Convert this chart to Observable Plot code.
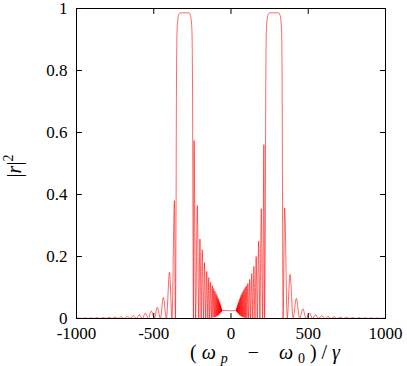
<!DOCTYPE html>
<html>
<head>
<meta charset="utf-8">
<script src="https://cdn.jsdelivr.net/npm/d3@7"></script>
<script src="https://cdn.jsdelivr.net/npm/@observablehq/plot@0.6"></script>
<style>
  html, body { margin: 0; padding: 0; background: #fff; }
  #chart svg { display: block; }
</style>
</head>
<body>
<div id="chart"></div>
<script>
// Tick values
const xTicks = [-1000, -500, 0, 500, 1000];
const yTicks = [0, 0.2, 0.4, 0.6, 0.8, 1];

// Curve, segment by segment: [(ωp−ω0)/γ, |r|^2]
const leftTail = [
  [-1000, 0.0008], [-984, 0.0016], [-964, 0], [-945, 0.0019], [-925, 0], [-906, 0.0022],
  [-886, 0], [-867, 0.0026], [-847, 0], [-828, 0.003], [-808, 0], [-789, 0.0037],
  [-769, 0], [-750, 0.0045], [-730, 0], [-711, 0.0055], [-691, 0], [-672, 0.007],
  [-652, 0], [-633, 0.009], [-613, 0], [-594, 0.012], [-574, 0], [-555, 0.017],
  [-535, 0], [-516, 0.024], [-496, 0], [-477, 0.036], [-457, 0], [-438, 0.068],
  [-418, 0], [-398, 0.149], [-382, 0], [-366, 0.38]
];
const leftBand = [
  [-360, 0], [-356, 0.3], [-353, 0.75], [-349, 0.93], [-344, 0.965], [-338, 0.98],
  [-330, 0.986], [-272, 0.986], [-264, 0.98], [-258, 0.965], [-253, 0.93],
  [-249, 0.75], [-246, 0.3], [-243, 0]
];
const leftInner = [
  [-239, 0.574], [-229, 0], [-218, 0.365], [-209, 0], [-201, 0.257], [-193, 0],
  [-186, 0.222], [-178, 0], [-171, 0.18], [-164, 0], [-157, 0.152], [-150, 0],
  [-144, 0.132], [-138, 0], [-132, 0.117], [-126, 0.002]
];
const leftCone = [
  [-121, 0.106], [-116.5, 0.003], [-112, 0.097], [-108, 0.004], [-104, 0.089],
  [-100.5, 0.005], [-97, 0.081], [-94, 0.007], [-91, 0.074], [-88.5, 0.008],
  [-86, 0.068], [-83.8, 0.010], [-81.5, 0.062], [-79.5, 0.012], [-77.5, 0.057],
  [-75.8, 0.014], [-74, 0.052], [-72.5, 0.016], [-71, 0.048], [-69.8, 0.018],
  [-68.5, 0.044], [-67.4, 0.020], [-66.3, 0.040], [-65.4, 0.021], [-64.5, 0.036],
  [-63.7, 0.022], [-63, 0.033], [-62.4, 0.023], [-61.8, 0.030], [-61.3, 0.024],
  [-60.8, 0.028]
];
const center = [[-60, 0.026], [-30, 0.0255], [0, 0.025], [20, 0.0255], [34, 0.026]];
const rightCone = [
  [35, 0.028], [35.6, 0.024], [36.2, 0.030], [36.9, 0.023], [37.6, 0.033],
  [38.4, 0.022], [39.3, 0.036], [40.3, 0.021], [41.3, 0.040], [42.4, 0.020],
  [43.6, 0.044], [44.9, 0.018], [46.3, 0.048], [47.8, 0.016], [49.4, 0.053],
  [51.2, 0.014], [53, 0.058], [55, 0.012], [57, 0.064], [59.2, 0.010],
  [61.5, 0.070], [64, 0.008], [66.5, 0.076], [69.2, 0.007], [72, 0.082],
  [75, 0.005], [78, 0.088], [81.2, 0.004], [84.5, 0.094], [88, 0.003],
  [91.5, 0.100], [95.2, 0.002], [99, 0.106], [103, 0.001]
];
const rightInner = [
  [109, 0.113], [114.5, 0], [121, 0.126], [127, 0], [134, 0.145], [141, 0],
  [148, 0.168], [155, 0], [163, 0.2], [170, 0], [179, 0.249], [187, 0],
  [196, 0.354], [205, 0], [213, 0.561], [217.5, 0]
];
const rightBand = [
  [222, 0.3], [225, 0.75], [229, 0.93], [234, 0.965], [240, 0.98], [248, 0.986],
  [308, 0.986], [316, 0.98], [322, 0.965], [327, 0.93], [331, 0.75], [334, 0.3], [337, 0]
];
const rightTail = [
  [347, 0.357], [364, 0], [382, 0.142], [402, 0], [423, 0.065], [444, 0],
  [465, 0.031], [486, 0], [508, 0.018], [528, 0], [548, 0.012], [568, 0],
  [588, 0.009], [608, 0], [628, 0.007], [648, 0], [668, 0.0055], [688, 0],
  [708, 0.0045], [728, 0], [748, 0.0037], [768, 0], [788, 0.003], [808, 0],
  [828, 0.0026], [848, 0], [868, 0.0022], [888, 0], [908, 0.0019], [928, 0],
  [948, 0.0016], [968, 0], [988, 0.0014], [1000, 0.001]
];

const data = [].concat(leftTail, leftBand, leftInner, leftCone, center,
                       rightCone, rightInner, rightBand, rightTail);

const tickShape = {draw(context, l) { context.moveTo(0, 0); context.lineTo(0, -l); }};
const tickOpts = {length: 5, anchor: "start", shape: tickShape, stroke: "black", strokeWidth: 1};

const chart = Plot.plot({
  width: 407,
  height: 366,
  marginLeft: 76,
  marginRight: 22,
  marginTop: 8,
  marginBottom: 48,
  x: {domain: [-1000, 1000]},
  y: {domain: [0, 1]},
  style: {fontSize: "17px", color: "black", background: "white"},
  marks: [
    Plot.line(data, {x: d => d[0], y: d => d[1], stroke: "#ff0000", strokeWidth: 0.6, curve: "monotone-x"}),
    Plot.vector(xTicks, {...tickOpts, x: d => d, y: 0, rotate: 0}),
    Plot.vector(xTicks, {...tickOpts, x: d => d, y: 1, rotate: 180}),
    Plot.vector(yTicks, {...tickOpts, x: -1000, y: d => d, rotate: 90}),
    Plot.vector(yTicks, {...tickOpts, x: 1000, y: d => d, rotate: -90}),
    Plot.frame({stroke: "black", strokeWidth: 1}),
    Plot.axisX({ticks: xTicks, tickSize: 0, tickPadding: 8, tickFormat: d => String(d), label: null}),
    Plot.axisY({ticks: yTicks, tickSize: 0, tickPadding: 9, tickFormat: d => String(d), label: null})
  ]
});

const svg = d3.select(chart);
const xl = svg.append("text")
  .attr("x", 265).attr("y", 359)
  .attr("text-anchor", "middle")
  .attr("font-size", 20)
  .attr("textLength", 150)
  .attr("lengthAdjust", "spacing")
  .attr("fill", "black");
xl.append("tspan").text("(");
xl.append("tspan").attr("font-style", "italic").text("ω");
xl.append("tspan").attr("font-style", "italic").attr("font-size", 14).attr("dy", 4).text("p");
xl.append("tspan").attr("dy", -4).text("\u2002−\u2002");
xl.append("tspan").attr("font-style", "italic").text("ω");
xl.append("tspan").attr("font-size", 14).attr("dy", 4).text("0");
xl.append("tspan").attr("dy", -4).text(")/");
xl.append("tspan").attr("font-style", "italic").text("γ");

const yl = svg.append("text")
  .attr("transform", "translate(21,166) rotate(-90)")
  .attr("text-anchor", "middle")
  .attr("font-size", 20)
  .attr("fill", "black");
yl.append("tspan").text("|");
yl.append("tspan").attr("font-style", "italic").text("r");
yl.append("tspan").text("|");
yl.append("tspan").attr("font-size", 14).attr("dy", -8).text("2");

chart.style.setProperty("font-family", "'Liberation Serif', serif", "important");
svg.selectAll("g, text").style("font-family", "'Liberation Serif', serif", "important");

document.getElementById("chart").append(chart);
</script>
</body>
</html>
